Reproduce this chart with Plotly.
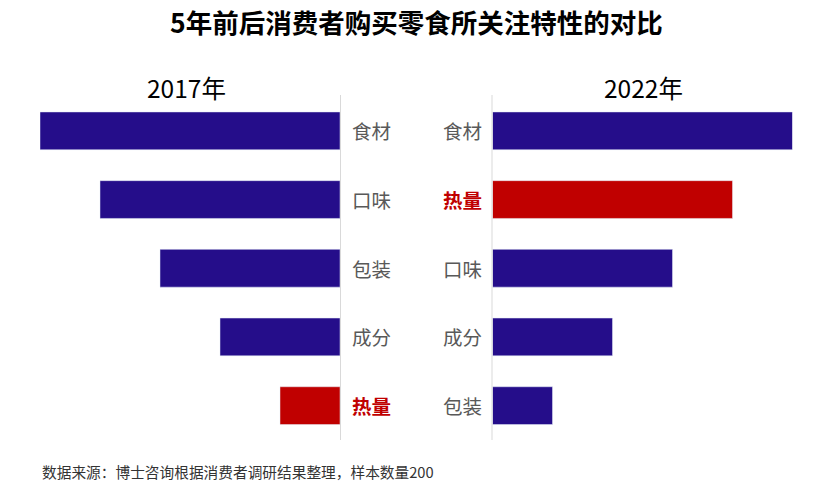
import plotly.graph_objects as go

W, H = 820, 489
OFF = 8  # page body margin

title = "5年前后消费者购买零食所关注特性的对比"
years = ["2017年", "2022年"]
cats_2017 = ["食材", "口味", "包装", "成分", "热量"]
vals_2017 = [5, 4, 3, 2, 1]
cats_2022 = ["食材", "热量", "口味", "成分", "包装"]
vals_2022 = [5, 4, 3, 2, 1]
highlight = "热量"
source = "数据来源：博士咨询根据消费者调研结果整理，样本数量200"

BLUE = "#250D8A"
RED = "#C00000"
FONT = "Noto Sans CJK SC"


def px_x(p):
    return (p - OFF) / W


def px_y(p):
    return (H - (p - OFF)) / H


def colors(cats):
    return [RED if c == highlight else BLUE for c in cats]


fig = go.Figure()
fig.add_trace(go.Bar(x=vals_2017, y=cats_2017, orientation="h", marker_color=colors(cats_2017),
                     width=0.55, xaxis="x", yaxis="y", showlegend=False, hoverinfo="x+y"))
fig.add_trace(go.Bar(x=vals_2022, y=cats_2022, orientation="h", marker_color=colors(cats_2022),
                     width=0.55, xaxis="x2", yaxis="y2", showlegend=False, hoverinfo="x+y"))

ydom = [px_y(440), px_y(96.5)]
axis_common = dict(showgrid=False, zeroline=False, showticklabels=False, showline=False, ticks="")
fig.update_layout(
    width=W, height=H,
    margin=dict(l=0, r=0, t=0, b=0),
    paper_bgcolor="white", plot_bgcolor="white",
    font=dict(family=FONT),
    xaxis=dict(domain=[px_x(40), px_x(340)], range=[5, 0], fixedrange=True, **axis_common),
    xaxis2=dict(domain=[px_x(492.5), px_x(792.5)], range=[0, 5], fixedrange=True, **axis_common),
    yaxis=dict(domain=ydom, type="category", categoryorder="array", categoryarray=cats_2017[::-1],
               range=[-0.5, 4.5], anchor="x", **axis_common),
    yaxis2=dict(domain=ydom, type="category", categoryorder="array", categoryarray=cats_2022[::-1],
                range=[-0.5, 4.5], anchor="x2", **axis_common),
)

annotations = []
annotations.append(dict(text="<b>" + title + "</b>", x=px_x(416), y=px_y(22), xref="paper", yref="paper",
                        showarrow=False, font=dict(size=26.5, color="black", family=FONT),
                        xanchor="center", yanchor="middle"))
annotations.append(dict(text=years[0], x=px_x(186), y=px_y(88), xref="paper", yref="paper",
                        showarrow=False, font=dict(size=24.5, color="black", family=FONT),
                        xanchor="center", yanchor="middle"))
annotations.append(dict(text=years[1], x=px_x(643), y=px_y(88), xref="paper", yref="paper",
                        showarrow=False, font=dict(size=24.5, color="black", family=FONT),
                        xanchor="center", yanchor="middle"))
for c in cats_2017:
    hl = c == highlight
    annotations.append(dict(text=("<b>%s</b>" % c) if hl else c, x=px_x(371), y=c, xref="paper", yref="y",
                            showarrow=False, xanchor="center", yanchor="middle",
                            font=dict(size=19.5, color=RED if hl else "#595959", family=FONT)))
for c in cats_2022:
    hl = c == highlight
    annotations.append(dict(text=("<b>%s</b>" % c) if hl else c, x=px_x(462), y=c, xref="paper", yref="y2",
                            showarrow=False, xanchor="center", yanchor="middle",
                            font=dict(size=19.5, color=RED if hl else "#595959", family=FONT)))
annotations.append(dict(text=source, x=px_x(40), y=px_y(471), xref="paper", yref="paper",
                        showarrow=False, xanchor="left", yanchor="middle",
                        font=dict(size=14.7, color="#333333", family=FONT)))
fig.update_layout(annotations=annotations)

shapes = []
for xp in (340.5, 492):
    shapes.append(dict(type="line", xref="paper", yref="paper", x0=px_x(xp), x1=px_x(xp),
                       y0=px_y(95), y1=px_y(440), line=dict(color="#D9D9D9", width=1)))
fig.update_layout(shapes=shapes)

fig.write_html("out.html")
